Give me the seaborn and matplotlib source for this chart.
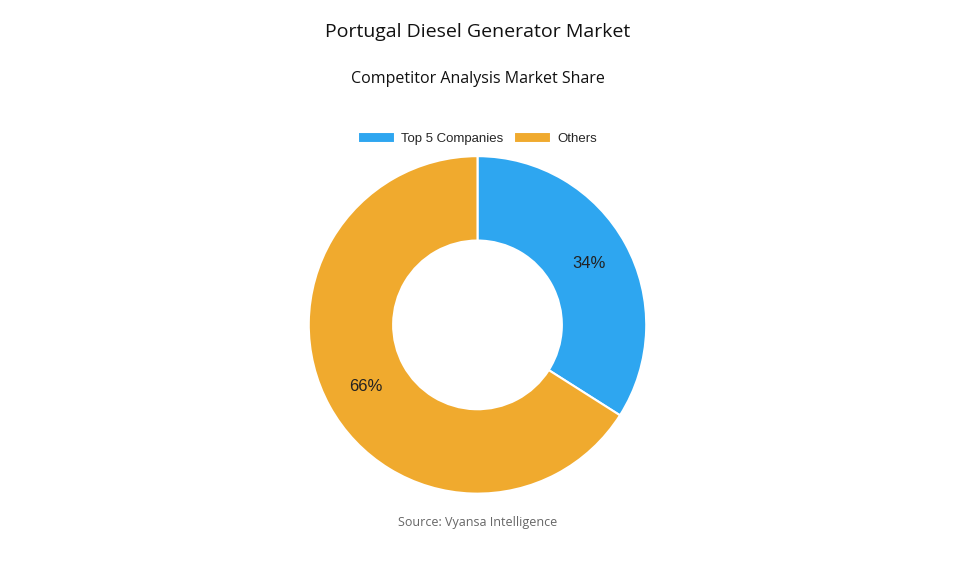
import matplotlib
matplotlib.use("Agg")
import matplotlib.pyplot as plt
import seaborn as sns

labels = ["Top 5 Companies", "Others"]
shares = [34, 66]
colors = ["#2ea6f0", "#f0aa2e"]

sns.set_theme(style="white")
plt.rcParams["font.family"] = ["Open Sans", "DejaVu Sans"]

fig = plt.figure(figsize=(9.55, 5.73), dpi=100)
ax = fig.add_axes([0.5 - 0.176, 0.433 - 0.293, 0.352, 0.586])
wedges, _, autotexts = ax.pie(
    shares,
    colors=sns.color_palette(colors),
    startangle=90,
    counterclock=False,
    autopct="%d%%",
    pctdistance=0.755,
    wedgeprops=dict(width=0.5, edgecolor="white", linewidth=1.5),
    textprops=dict(fontsize=12, color="#222222", family=["Liberation Sans"]),
)
ax.set_xlim(-0.995, 0.995)
ax.set_ylim(-0.995, 0.995)
ax.set_aspect("equal")

fig.text(0.5, 0.945, "Portugal Diesel Generator Market", ha="center", va="center",
         fontsize=14, color="#111111", weight="medium")
fig.text(0.5, 0.862, "Competitor Analysis Market Share", ha="center", va="center",
         fontsize=11.5, color="#111111", weight="medium")
fig.legend(wedges, labels, loc="center", bbox_to_anchor=(0.5, 0.759), ncol=2,
           frameon=False, handlelength=2.8, handleheight=0.9, columnspacing=0.8,
           handletextpad=0.5, prop=dict(family="Liberation Sans", size=9.5))
fig.text(0.5, 0.089, "Source: Vyansa Intelligence", ha="center", va="center",
         fontsize=9, color="#666666")

fig.savefig("out.png", dpi=100)
